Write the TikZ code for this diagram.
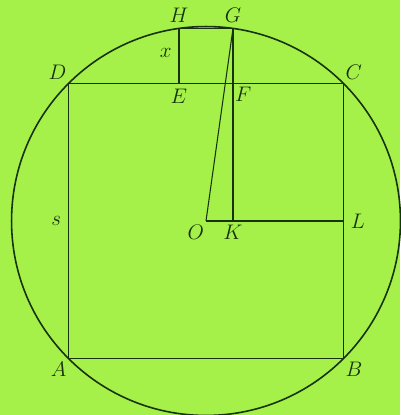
\documentclass[tikz,border=0pt]{standalone}
\usepackage{tikz}
\usetikzlibrary{positioning}
\definecolor{paper}{RGB}{166,240,74}
\definecolor{ink}{RGB}{22,50,14}

\begin{document}
\begin{tikzpicture}[
    x=0.02cm, y=0.02cm,
    line/.style={draw=ink, line width=0.6pt},
    rim/.style={draw=ink, line width=0.9pt},
    lbl/.style={text=ink, font=\large, inner sep=1pt}
]
    \fill[paper] (-206,-194) rectangle (194,221);
    \useasboundingbox (-206,-194) rectangle (194,221);

    \coordinate (O) at (0,0);
    \coordinate (A) at (-137.5,-137.5);
    \coordinate (B) at (137.5,-137.5);
    \coordinate (C) at (137.5,137.5);
    \coordinate (D) at (-137.5,137.5);
    \coordinate (H) at (-27,192.6);
    \coordinate (G) at (27,192.6);
    \coordinate (E) at (-27,137.5);
    \coordinate (F) at (27,137.5);
    \coordinate (K) at (27,0);
    \coordinate (L) at (137.5,0);
    \coordinate (HEmid) at (-27,168);
    \coordinate (ADmid) at (-137.5,0);

    \draw[rim] (O) circle[radius=3.89cm];
    \draw[line] (A) -- (B) -- (C) -- (D) -- cycle;
    \draw[rim] (H) -- (G);
    \draw[line] (H) -- (E);
    \draw[line] (G) -- (K);
    \draw[line] (O) -- (G);
    \draw[line] (O) -- (L);

    \node[lbl, above=2pt of H] (lH) {$H$};
    \node[lbl, above=2pt of G] (lG) {$G$};
    \node[lbl, left=3pt of HEmid] (lx) {$x$};
    \node[lbl, below=2pt of E] (lE) {$E$};
    \node[lbl, below right=1pt and 0pt of F] (lF) {$F$};
    \node[lbl, above left=1pt and 0pt of D] (lD) {$D$};
    \node[lbl, above right=1pt and 0pt of C] (lC) {$C$};
    \node[lbl, below left=1pt and 0pt of A] (lA) {$A$};
    \node[lbl, below right=1pt and 0pt of B] (lB) {$B$};
    \node[lbl, left=3pt of ADmid] (ls) {$s$};
    \node[lbl, below left=1pt and 0pt of O] (lO) {$O$};
    \node[lbl, below=1pt of K] (lK) {$K$};
    \node[lbl, right=3pt of L] (lL) {$L$};
\end{tikzpicture}
\end{document}
